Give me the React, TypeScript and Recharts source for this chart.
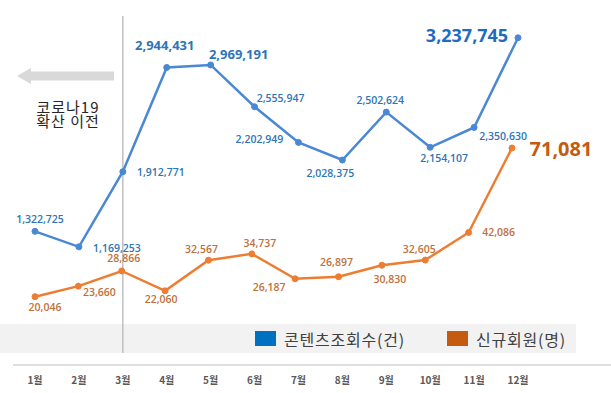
import React from "react";
import {
  LineChart,
  Line,
  XAxis,
  YAxis,
  Legend,
  LabelList,
  ReferenceLine,
} from "recharts";

const months = ["1월", "2월", "3월", "4월", "5월", "6월", "7월", "8월", "9월", "10월", "11월", "12월"];
const views = [1322725, 1169253, 1912771, 2944431, 2969191, 2555947, 2202949, 2028375, 2502624, 2154107, 2350630, 3237745];
const members = [20046, 23660, 28866, 22060, 32567, 34737, 26187, 26897, 30830, 32605, 42086, 71081];

// label offsets from each point (dx, dy)
const viewLabelOffsets = [
  [5, -12], [38, 1], [38, 0], [-2, -22], [28, -11], [26, -9],
  [-39, -3], [-12, 13], [-6, -12], [14, 11], [29, 9], [-51, -3],
];
const memberLabelOffsets = [
  [10, 10], [21, 6], [2, -13], [-4, 8], [-7, -11], [8, -11],
  [-26, 8], [-2, -15], [8, 14], [-6, -11], [30, 0], [49, 1],
];

const data = months.map((m, i) => ({ month: m, views: views[i], members: members[i] }));

const FONT = "'Noto Sans CJK KR', 'Noto Sans', sans-serif";
const NUM_FONT = "'Open Sans', 'Noto Sans', sans-serif";

const legendOrder = ["views", "members"];
const legendColors: Record<string, string> = { views: "#0070c0", members: "#c55a11" };

const makeLabel =
  (offsets: number[][], color: string, big: Record<number, { size: number; color: string }>) =>
  (props: any) => {
    const { index, value } = props;
    const x = props.x ?? props.viewBox?.x;
    const y = props.y ?? props.viewBox?.y;
    if (x == null || y == null) return null;
    const [dx, dy] = offsets[index];
    const b = big[index];
    return (
      <text
        x={x + dx}
        y={y + dy}
        textAnchor="middle"
        dominantBaseline="central"
        fontFamily={NUM_FONT}
        fontSize={b ? b.size : 10.5}
        fontWeight={b ? 700 : 600}
        fill={b ? b.color : color}
      >
        {Number(value).toLocaleString("en-US")}
      </text>
    );
  };

const renderLegend = (props: any) => {
  const items = [...(props.payload || [])].sort(
    (a: any, b: any) => legendOrder.indexOf(a.dataKey) - legendOrder.indexOf(b.dataKey)
  );
  return (
    <div
      style={{
        display: "flex",
        justifyContent: "flex-end",
        alignItems: "center",
        height: 29,
        paddingRight: 10,
        boxSizing: "border-box",
        fontFamily: FONT,
        fontSize: 16,
        letterSpacing: 0.8,
        color: "#404040",
      }}
    >
      {items.map((it: any, i: number) => (
        <div key={i} style={{ display: "flex", alignItems: "center", marginLeft: i ? 42 : 0 }}>
          <span
            style={{
              display: "inline-block",
              width: 21,
              height: 15,
              background: legendColors[it.dataKey],
              marginRight: 8,
            }}
          />
          <span>{it.value}</span>
        </div>
      ))}
    </div>
  );
};

// divider before the pandemic, trimmed to end at the legend band
const TrimmedLine = (props: any) => {
  const { x1, y1, x2, y2 } = props;
  const top = Math.min(y1, y2) + 16;
  const bottom = Math.max(y1, y2) - 12;
  return <line x1={x1} y1={top} x2={x2} y2={bottom} stroke="#bfbfbf" strokeWidth={1.5} />;
};

export default function App() {
  return (
    <div style={{ position: "absolute", left: 0, top: 0, width: 611, height: 393, background: "#fff" }}>
      <div style={{ position: "absolute", left: 0, top: 324, width: 576, height: 29, background: "#f2f2f2" }} />
      <LineChart width={611} height={393} data={data} margin={{ top: 0, right: 0, left: 13, bottom: 0 }}>
        <XAxis
          xAxisId="v"
          dataKey="month"
          scale="point"
          orientation="bottom"
          padding={{ left: 22, right: 93 }}
          height={28}
          tickLine={false}
          axisLine={false}
          tick={{ fontSize: 10, fontWeight: 600, fill: "#595959", fontFamily: FONT, dy: 4 }}
          interval={0}
        />
        <XAxis
          xAxisId="m"
          dataKey="month"
          scale="point"
          orientation="top"
          height={0}
          padding={{ left: 22, right: 99 }}
          hide
        />
        <YAxis yAxisId="v" domain={[0, 3612000]} allowDataOverflow hide />
        <YAxis yAxisId="m" domain={[-3400, 121870]} allowDataOverflow hide />
        <ReferenceLine xAxisId="v" yAxisId="v" y={0} stroke="#d4d4d4" strokeWidth={1.5} ifOverflow="visible" />
        <ReferenceLine xAxisId="v" yAxisId="v" x="3월" shape={TrimmedLine} />
        <Legend
          layout="horizontal"
          verticalAlign="middle"
          align="center"
          content={renderLegend}
          wrapperStyle={{ position: "absolute", left: 0, top: 324, width: 576, height: 29 }}
        />
        <Line
          xAxisId="v"
          yAxisId="v"
          dataKey="views"
          name="콘텐츠조회수(건)"
          stroke="#4a88d4"
          strokeWidth={2.5}
          dot={{ r: 3, fill: "#4a88d4", stroke: "#4a88d4", strokeWidth: 1 }}
          activeDot={false}
          isAnimationActive={false}
        >
          <LabelList
            dataKey="views"
            content={makeLabel(viewLabelOffsets, "#2e75b6", {
              3: { size: 13, color: "#2e75b6" },
              4: { size: 13, color: "#2e75b6" },
              11: { size: 18, color: "#1f6bbf" },
            })}
          />
        </Line>
        <Line
          xAxisId="m"
          yAxisId="m"
          dataKey="members"
          name="신규회원(명)"
          stroke="#ed7d31"
          strokeWidth={2.5}
          dot={{ r: 3, fill: "#ed7d31", stroke: "#ed7d31", strokeWidth: 1 }}
          activeDot={false}
          isAnimationActive={false}
        >
          <LabelList
            dataKey="members"
            content={makeLabel(memberLabelOffsets, "#c0703a", {
              11: { size: 20, color: "#c55a11" },
            })}
          />
        </Line>
      </LineChart>
      <svg width={130} height={140} style={{ position: "absolute", left: 0, top: 0, pointerEvents: "none" }}>
        <polygon points="17,76 31,68 31,71.5 114,71.5 114,80.5 31,80.5 31,84" fill="#d9d9d9" />
        <text x={68} y={106} textAnchor="middle" dominantBaseline="central" fontFamily={FONT} fontSize={15} letterSpacing={1} fill="#262626">
          코로나19
        </text>
        <text x={68} y={120} textAnchor="middle" dominantBaseline="central" fontFamily={FONT} fontSize={15} letterSpacing={1} fill="#262626">
          확산 이전
        </text>
      </svg>
    </div>
  );
}
